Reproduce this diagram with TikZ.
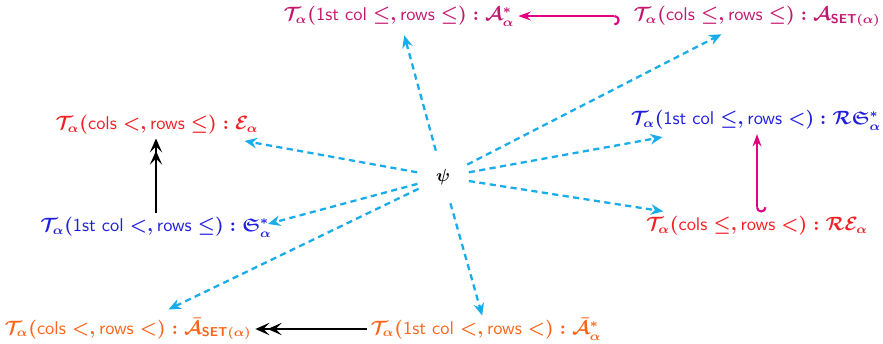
\documentclass[tikz,border=0pt]{standalone}
\usepackage{amsmath,amssymb}
\usepackage{tikz}
\usetikzlibrary{arrows.meta,positioning,calc}
\definecolor{tmag}{RGB}{196,22,110}
\definecolor{tred}{RGB}{245,30,35}
\definecolor{tblue}{RGB}{30,30,225}
\definecolor{torange}{RGB}{252,100,25}
\definecolor{tcyan}{RGB}{25,172,235}
\definecolor{hmag}{RGB}{228,0,128}
\newcommand{\Ta}{\mathcal{T}_{\alpha}}
\newcommand{\wrd}[1]{\textsf{#1}}
\newcommand{\SETa}{\textsf{\textbf{SET}}\boldsymbol{(\alpha)}}

\begin{document}
\begin{tikzpicture}[
  x=0.02cm, y=-0.02cm,
  lab/.style={inner sep=2pt, font=\fontsize{10.5}{12}\sffamily\boldmath},
  dasharr/.style={-{Stealth[length=7pt,width=6pt]}, tcyan, line width=1.3pt, dash pattern=on 3.5pt off 2.5pt, shorten <=0.34cm},
  hookarr/.style={{Hooks[right,length=3pt]}-{Stealth[length=7pt,width=5pt]}, hmag, line width=1.2pt},
  dblarr/.style={-{Stealth[length=8pt,width=7pt,inset=3.5pt,sep=-1pt]Stealth[length=8pt,width=7pt,inset=3.5pt]}, black, line width=1.2pt}
]
\useasboundingbox (0,0) rectangle (883,343);
\node[inner sep=1pt] (psi) at (443,177) {$\boldsymbol{\psi}$};
\node[lab, text=tmag] (Astar) at (399,16) {$\Ta(\wrd{1st col} \leq, \wrd{rows} \leq) : \mathcal{A}^*_{\alpha}$};
\node[lab, text=tmag] (Aset) at (757,16) {$\Ta(\wrd{cols} \leq, \wrd{rows} \leq) : \mathcal{A}_{\SETa}$};
\node[lab, text=tred] (Ea) at (157,125) {$\Ta(\wrd{cols} <, \wrd{rows} \leq) : \mathcal{E}_{\alpha}$};
\node[lab, text=tblue] (Ss) at (156,227) {$\Ta(\wrd{1st col} <, \wrd{rows} \leq) : \mathfrak{S}^*_{\alpha}$};
\node[lab, text=tblue] (RSs) at (756,120) {$\Ta(\wrd{1st col} \leq, \wrd{rows} <) : \mathcal{R}\mathfrak{S}^*_{\alpha}$};
\node[lab, text=tred] (REa) at (757,226) {$\Ta(\wrd{cols} \leq, \wrd{rows} <) : \mathcal{R}\mathcal{E}_{\alpha}$};
\node[lab, text=torange] (Abset) at (128,329) {$\Ta(\wrd{cols} <, \wrd{rows} <) : \bar{\mathcal{A}}_{\SETa}$};
\node[lab, text=torange] (Abs) at (486,329) {$\Ta(\wrd{1st col} <, \wrd{rows} <) : \bar{\mathcal{A}}^*_{\alpha}$};
% dashed arrows out of psi
\foreach \t/\d in {Astar/0.40, Aset/0.80, Ea/1.78, RSs/1.90, REa/1.90, Abset/0.90, Abs/0.28}
  \draw[dasharr, shorten >=\d cm] (psi) -- (\t.center);
\draw[dasharr, shorten >=2.32cm] (psi) -- ($(Ss.center)+(0,27)$);
% inclusions
\draw[hookarr, shorten <=0.2cm] (Aset) -- (Astar);
\draw[hookarr, {Hooks[left,length=3pt]}-{Stealth[length=7pt,width=5pt]}] (REa.north) -- (REa.north |- RSs.south);
\draw[dblarr] (Ss.north) -- (Ss.north |- Ea.south);
\draw[dblarr] (Abs) -- (Abset);
\end{tikzpicture}
\end{document}
